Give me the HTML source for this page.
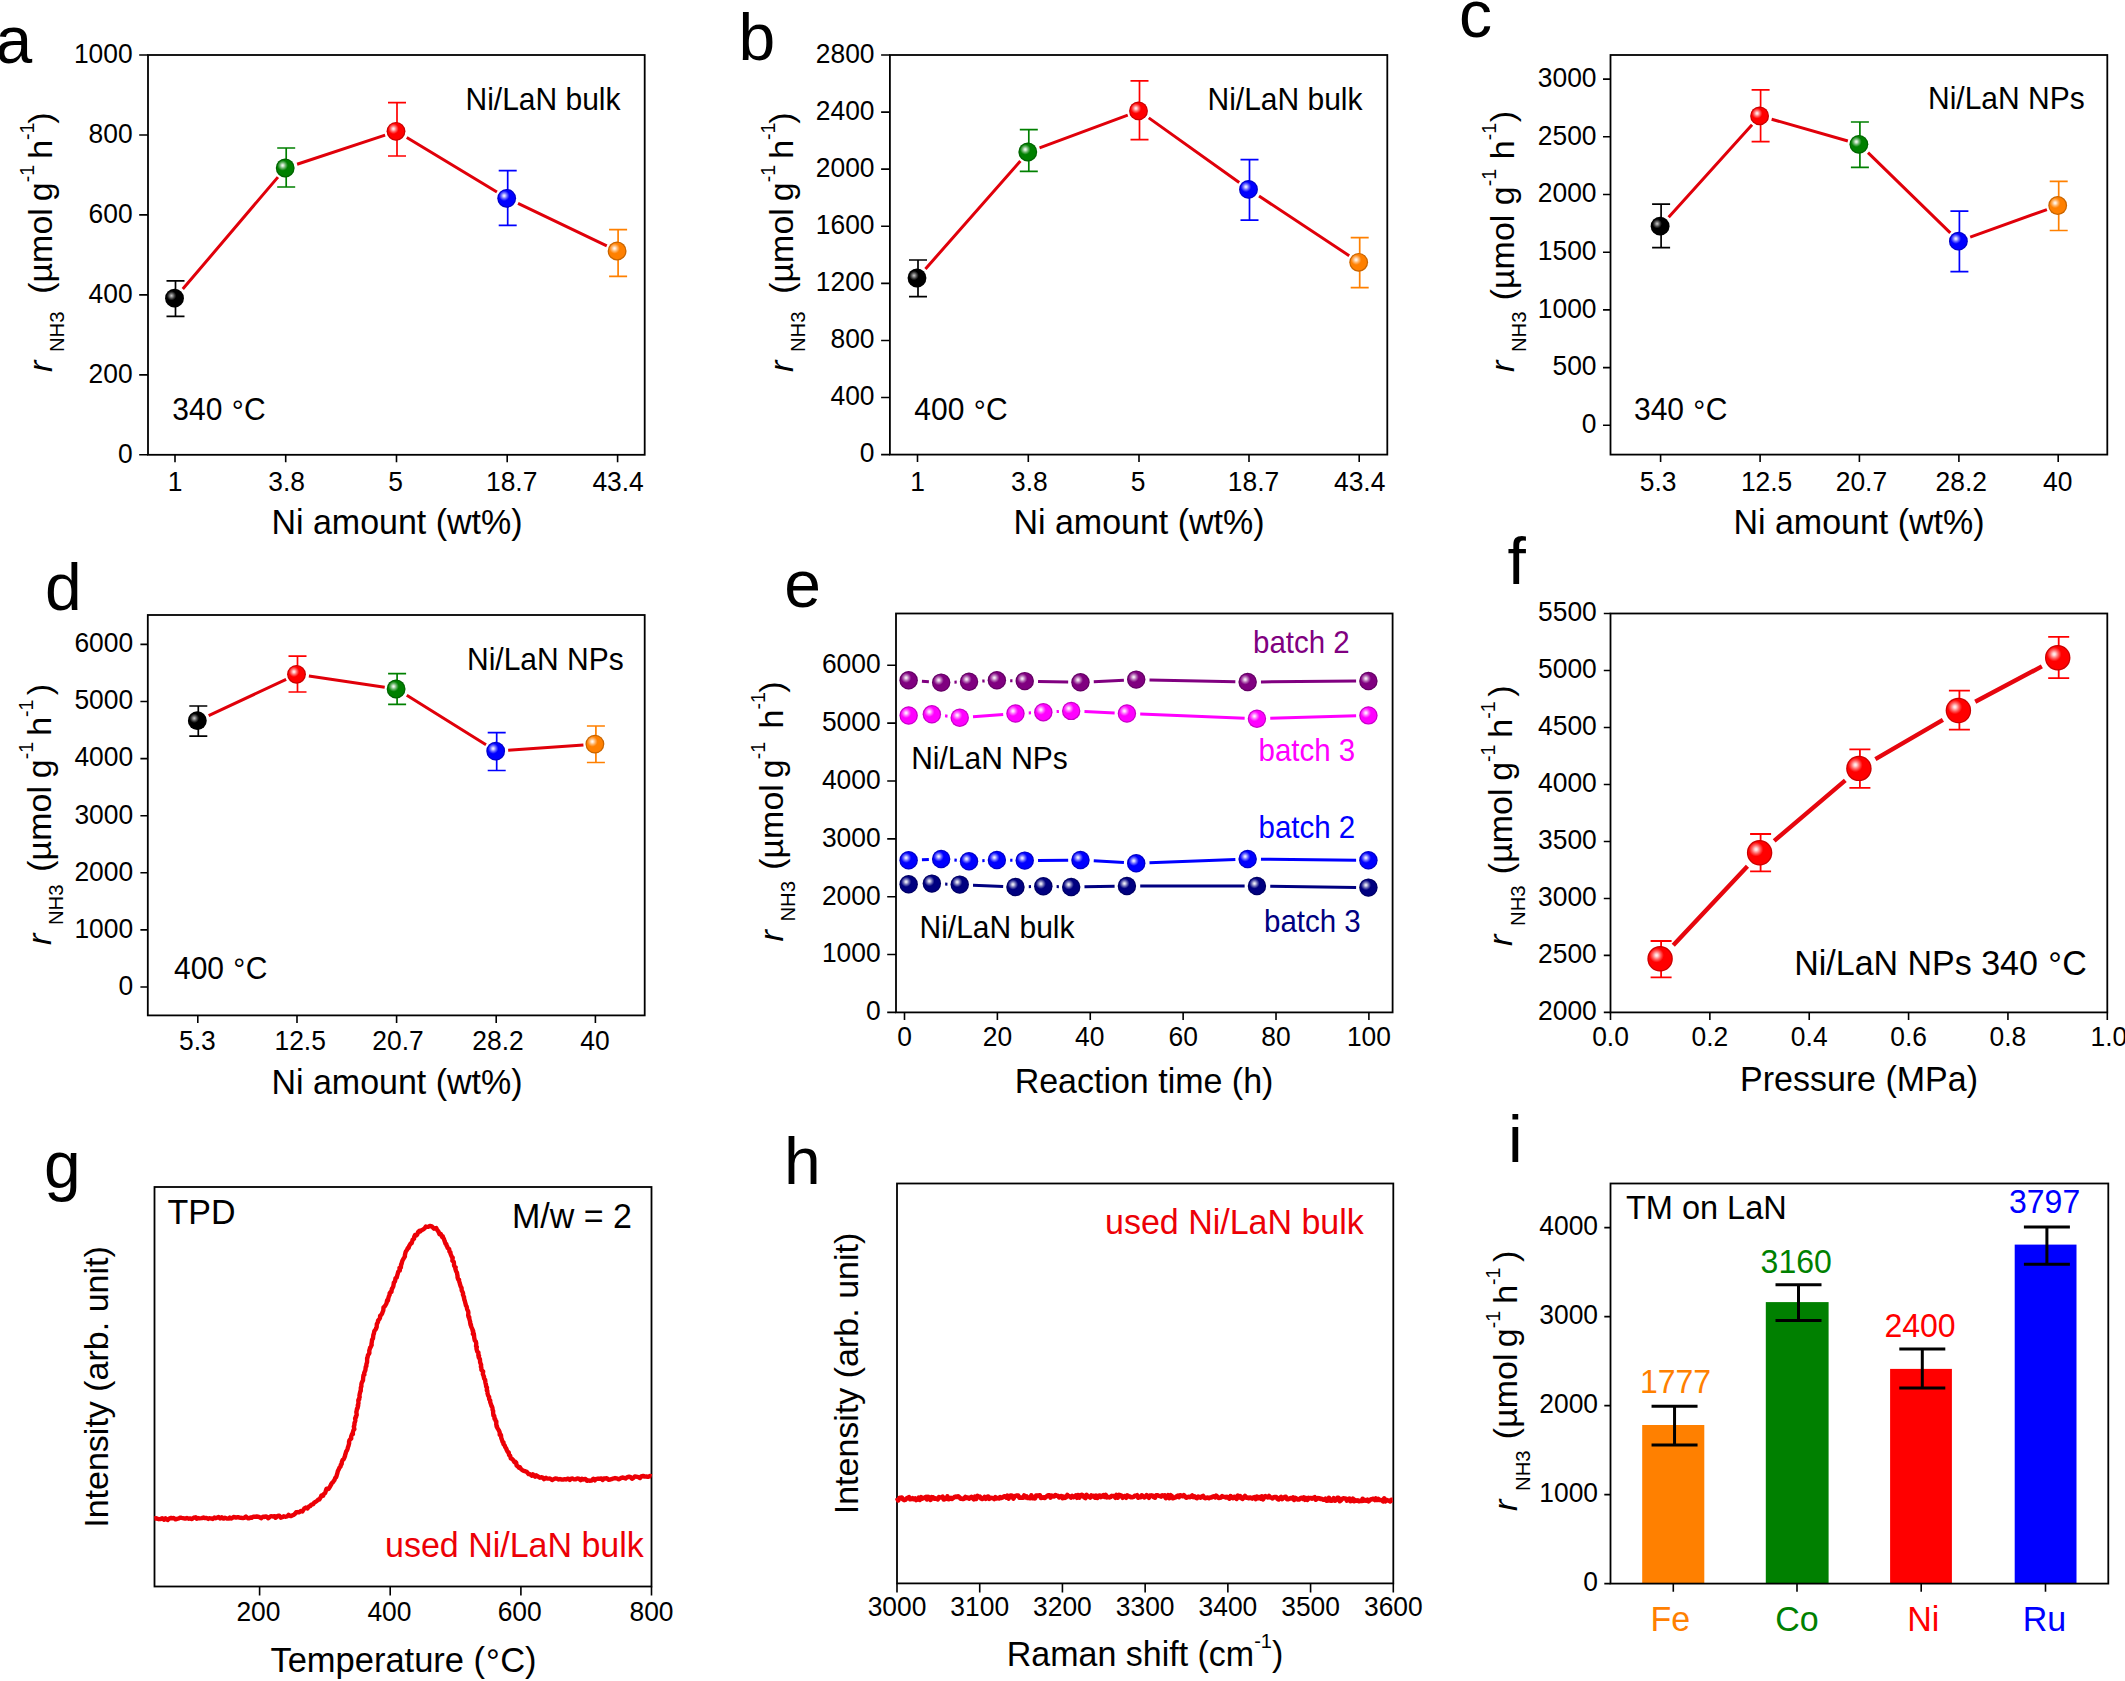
<!DOCTYPE html>
<html lang="en"><head><meta charset="utf-8"><title>Ammonia synthesis rate figure</title>
<style>html,body{margin:0;padding:0;background:#fff}body{width:2125px;height:1681px;overflow:hidden}svg{display:block}text{font-family:'Liberation Sans', Arial, sans-serif}</style></head><body>
<svg width="2125" height="1681" viewBox="0 0 2125 1681" role="img" aria-label="Nine panel figure of ammonia synthesis rates">
<defs>
<radialGradient id="hl" cx="0.355" cy="0.355" r="0.30" fx="0.355" fy="0.355"><stop offset="0" stop-color="#fff" stop-opacity="0.95"/><stop offset="0.18" stop-color="#fff" stop-opacity="0.85"/><stop offset="0.55" stop-color="#fff" stop-opacity="0.42"/><stop offset="0.85" stop-color="#fff" stop-opacity="0.12"/><stop offset="1" stop-color="#fff" stop-opacity="0"/></radialGradient>
<radialGradient id="hlk" cx="0.33" cy="0.36" r="0.27" fx="0.33" fy="0.36"><stop offset="0" stop-color="#fff" stop-opacity="0.8"/><stop offset="0.3" stop-color="#fff" stop-opacity="0.55"/><stop offset="0.7" stop-color="#fff" stop-opacity="0.2"/><stop offset="1" stop-color="#fff" stop-opacity="0"/></radialGradient>
</defs>
<rect width="2125" height="1681" fill="#fff"/>
<rect x="148" y="55" width="496.7" height="399.8" fill="none" stroke="#000" stroke-width="1.8"/>
<path d="M139.2 454.8H148M139.2 374.84H148M139.2 294.88H148M139.2 214.92H148M139.2 134.96H148M139.2 55H148" stroke="#000" stroke-width="1.6" fill="none"/>
<text transform="translate(132.6 462.6) scale(1 1.08)" font-size="26.4" fill="#000" text-anchor="end">0</text>
<text transform="translate(132.6 382.64) scale(1 1.08)" font-size="26.4" fill="#000" text-anchor="end">200</text>
<text transform="translate(132.6 302.68) scale(1 1.08)" font-size="26.4" fill="#000" text-anchor="end">400</text>
<text transform="translate(132.6 222.72) scale(1 1.08)" font-size="26.4" fill="#000" text-anchor="end">600</text>
<text transform="translate(132.6 142.76) scale(1 1.08)" font-size="26.4" fill="#000" text-anchor="end">800</text>
<text transform="translate(132.6 62.8) scale(1 1.08)" font-size="26.4" fill="#000" text-anchor="end">1000</text>
<path d="M175 454.8V462.3M285.7 454.8V462.3M396.5 454.8V462.3M507.2 454.8V462.3M617.6 454.8V462.3" stroke="#000" stroke-width="1.6" fill="none"/>
<text transform="translate(175 490.7) scale(1 1.08)" font-size="26.4" fill="#000" text-anchor="middle">1</text>
<text transform="translate(286.7 490.7) scale(1 1.08)" font-size="26.4" fill="#000" text-anchor="middle">3.8</text>
<text transform="translate(395.7 490.7) scale(1 1.08)" font-size="26.4" fill="#000" text-anchor="middle">5</text>
<text transform="translate(511.7 490.7) scale(1 1.08)" font-size="26.4" fill="#000" text-anchor="middle">18.7</text>
<text transform="translate(618.1 490.7) scale(1 1.08)" font-size="26.4" fill="#000" text-anchor="middle">43.4</text>
<path d="M182.77 289.06L277.93 177.14M297.09 164.23L385.11 135.07M406.77 137.51L496.93 192.09M518.03 203.47L606.77 245.83" stroke="#e0000a" stroke-width="3" fill="none"/>
<path d="M166.5 280.9H184.5M166.5 316.3H184.5M175.5 280.9V316.3" stroke="#000000" stroke-width="1.7" fill="none"/>
<path d="M277.2 148H295.2M277.2 187H295.2M286.2 148V187" stroke="#008000" stroke-width="1.7" fill="none"/>
<path d="M388 102.6H406M388 156H406M397 102.6V156" stroke="#ff0000" stroke-width="1.7" fill="none"/>
<path d="M498.7 170.7H516.7M498.7 225.3H516.7M507.7 170.7V225.3" stroke="#0000ff" stroke-width="1.7" fill="none"/>
<path d="M609.1 229.6H627.1M609.1 276.4H627.1M618.1 229.6V276.4" stroke="#ff8000" stroke-width="1.7" fill="none"/>
<circle cx="174.5" cy="298.2" r="9.4" fill="#000000"/><circle cx="174.5" cy="298.2" r="8.8" fill="url(#hlk)" stroke="#000" stroke-opacity="0.22" stroke-width="1.2"/>
<circle cx="285.2" cy="168" r="9.4" fill="#008000"/><circle cx="285.2" cy="168" r="8.8" fill="url(#hl)" stroke="#000" stroke-opacity="0.22" stroke-width="1.2"/>
<circle cx="396" cy="131.3" r="9.4" fill="#ff0000"/><circle cx="396" cy="131.3" r="8.8" fill="url(#hl)" stroke="#000" stroke-opacity="0.22" stroke-width="1.2"/>
<circle cx="506.7" cy="198.3" r="9.4" fill="#0000ff"/><circle cx="506.7" cy="198.3" r="8.8" fill="url(#hl)" stroke="#000" stroke-opacity="0.22" stroke-width="1.2"/>
<circle cx="617.1" cy="251" r="9.4" fill="#ff8000"/><circle cx="617.1" cy="251" r="8.8" fill="url(#hl)" stroke="#000" stroke-opacity="0.22" stroke-width="1.2"/>
<text transform="translate(465.5 109.5) scale(1 1.04)" font-size="30" fill="#000" text-anchor="start">Ni/LaN bulk</text>
<text transform="translate(172.3 420) scale(1 1.04)" font-size="30" fill="#000" text-anchor="start">340 <tspan dy="1.5" dx="1">°</tspan><tspan dy="-1.5" dx="0.3">C</tspan></text>
<text transform="translate(397 534) scale(1 1.04)" font-size="34" fill="#000" text-anchor="middle">Ni amount (wt%)</text>
<text transform="translate(51.8 372) rotate(-90)" font-size="34" text-anchor="start" fill="#000"><tspan font-style="italic">r</tspan><tspan font-size="20.3" dy="12.4" dx="8.6">NH3</tspan><tspan dy="-12.4" dx="17.7">(µmol</tspan><tspan dx="6.95">g</tspan><tspan font-size="19.5" dy="-17.5">-1</tspan><tspan dy="17.5" dx="6.05">h</tspan><tspan font-size="19.5" dy="-17.5">-1</tspan><tspan dy="17.5" dx="-1.2">)</tspan></text>
<text x="-4.5" y="62.5" font-size="66" fill="#000" text-anchor="start">a</text>
<rect x="889.9" y="55" width="497.4" height="399.6" fill="none" stroke="#000" stroke-width="1.8"/>
<path d="M881.1 454.6H889.9M881.1 397.51H889.9M881.1 340.43H889.9M881.1 283.34H889.9M881.1 226.26H889.9M881.1 169.17H889.9M881.1 112.09H889.9M881.1 55H889.9" stroke="#000" stroke-width="1.6" fill="none"/>
<text transform="translate(874.5 462.4) scale(1 1.08)" font-size="26.4" fill="#000" text-anchor="end">0</text>
<text transform="translate(874.5 405.31) scale(1 1.08)" font-size="26.4" fill="#000" text-anchor="end">400</text>
<text transform="translate(874.5 348.23) scale(1 1.08)" font-size="26.4" fill="#000" text-anchor="end">800</text>
<text transform="translate(874.5 291.14) scale(1 1.08)" font-size="26.4" fill="#000" text-anchor="end">1200</text>
<text transform="translate(874.5 234.06) scale(1 1.08)" font-size="26.4" fill="#000" text-anchor="end">1600</text>
<text transform="translate(874.5 176.97) scale(1 1.08)" font-size="26.4" fill="#000" text-anchor="end">2000</text>
<text transform="translate(874.5 119.89) scale(1 1.08)" font-size="26.4" fill="#000" text-anchor="end">2400</text>
<text transform="translate(874.5 62.8) scale(1 1.08)" font-size="26.4" fill="#000" text-anchor="end">2800</text>
<path d="M917.5 454.6V462.1M1028.3 454.6V462.1M1139 454.6V462.1M1249 454.6V462.1M1359.2 454.6V462.1" stroke="#000" stroke-width="1.6" fill="none"/>
<text transform="translate(917.5 490.7) scale(1 1.08)" font-size="26.4" fill="#000" text-anchor="middle">1</text>
<text transform="translate(1029.3 490.7) scale(1 1.08)" font-size="26.4" fill="#000" text-anchor="middle">3.8</text>
<text transform="translate(1138.2 490.7) scale(1 1.08)" font-size="26.4" fill="#000" text-anchor="middle">5</text>
<text transform="translate(1253.5 490.7) scale(1 1.08)" font-size="26.4" fill="#000" text-anchor="middle">18.7</text>
<text transform="translate(1359.7 490.7) scale(1 1.08)" font-size="26.4" fill="#000" text-anchor="middle">43.4</text>
<path d="M925.42 268.99L1020.38 161.01M1039.55 147.82L1127.75 115.08M1148.77 117.87L1239.23 182.43M1259.01 196.02L1349.19 255.68" stroke="#e0000a" stroke-width="3" fill="none"/>
<path d="M909 260H927M909 296.7H927M918 260V296.7" stroke="#000000" stroke-width="1.7" fill="none"/>
<path d="M1019.8 129.6H1037.8M1019.8 171.4H1037.8M1028.8 129.6V171.4" stroke="#008000" stroke-width="1.7" fill="none"/>
<path d="M1130.5 80.9H1148.5M1130.5 139.7H1148.5M1139.5 80.9V139.7" stroke="#ff0000" stroke-width="1.7" fill="none"/>
<path d="M1240.5 159.7H1258.5M1240.5 220.2H1258.5M1249.5 159.7V220.2" stroke="#0000ff" stroke-width="1.7" fill="none"/>
<path d="M1350.7 237.6H1368.7M1350.7 287.7H1368.7M1359.7 237.6V287.7" stroke="#ff8000" stroke-width="1.7" fill="none"/>
<circle cx="917" cy="278" r="9.4" fill="#000000"/><circle cx="917" cy="278" r="8.8" fill="url(#hlk)" stroke="#000" stroke-opacity="0.22" stroke-width="1.2"/>
<circle cx="1027.8" cy="152" r="9.4" fill="#008000"/><circle cx="1027.8" cy="152" r="8.8" fill="url(#hl)" stroke="#000" stroke-opacity="0.22" stroke-width="1.2"/>
<circle cx="1138.5" cy="110.9" r="9.4" fill="#ff0000"/><circle cx="1138.5" cy="110.9" r="8.8" fill="url(#hl)" stroke="#000" stroke-opacity="0.22" stroke-width="1.2"/>
<circle cx="1248.5" cy="189.4" r="9.4" fill="#0000ff"/><circle cx="1248.5" cy="189.4" r="8.8" fill="url(#hl)" stroke="#000" stroke-opacity="0.22" stroke-width="1.2"/>
<circle cx="1358.7" cy="262.3" r="9.4" fill="#ff8000"/><circle cx="1358.7" cy="262.3" r="8.8" fill="url(#hl)" stroke="#000" stroke-opacity="0.22" stroke-width="1.2"/>
<text transform="translate(1207.5 109.5) scale(1 1.04)" font-size="30" fill="#000" text-anchor="start">Ni/LaN bulk</text>
<text transform="translate(914.3 420) scale(1 1.04)" font-size="30" fill="#000" text-anchor="start">400 <tspan dy="1.5" dx="1">°</tspan><tspan dy="-1.5" dx="0.3">C</tspan></text>
<text transform="translate(1139 534) scale(1 1.04)" font-size="34" fill="#000" text-anchor="middle">Ni amount (wt%)</text>
<text transform="translate(792.5 372) rotate(-90)" font-size="34" text-anchor="start" fill="#000"><tspan font-style="italic">r</tspan><tspan font-size="20.3" dy="12.4" dx="8.6">NH3</tspan><tspan dy="-12.4" dx="17.7">(µmol</tspan><tspan dx="6.95">g</tspan><tspan font-size="19.5" dy="-17.5">-1</tspan><tspan dy="17.5" dx="6.05">h</tspan><tspan font-size="19.5" dy="-17.5">-1</tspan><tspan dy="17.5" dx="-1.2">)</tspan></text>
<text x="738.4" y="59.5" font-size="66" fill="#000" text-anchor="start">b</text>
<rect x="1610.5" y="55" width="496.8" height="399.6" fill="none" stroke="#000" stroke-width="1.8"/>
<path d="M1603 425.3H1610.5M1603 367.6H1610.5M1603 309.9H1610.5M1603 252.2H1610.5M1603 194.5H1610.5M1603 136.8H1610.5M1603 79.1H1610.5" stroke="#000" stroke-width="1.6" fill="none"/>
<text transform="translate(1596.5 433.1) scale(1 1.08)" font-size="26.4" fill="#000" text-anchor="end">0</text>
<text transform="translate(1596.5 375.4) scale(1 1.08)" font-size="26.4" fill="#000" text-anchor="end">500</text>
<text transform="translate(1596.5 317.7) scale(1 1.08)" font-size="26.4" fill="#000" text-anchor="end">1000</text>
<text transform="translate(1596.5 260) scale(1 1.08)" font-size="26.4" fill="#000" text-anchor="end">1500</text>
<text transform="translate(1596.5 202.3) scale(1 1.08)" font-size="26.4" fill="#000" text-anchor="end">2000</text>
<text transform="translate(1596.5 144.6) scale(1 1.08)" font-size="26.4" fill="#000" text-anchor="end">2500</text>
<text transform="translate(1596.5 86.9) scale(1 1.08)" font-size="26.4" fill="#000" text-anchor="end">3000</text>
<path d="M1660.6 454.6V462.1M1760.1 454.6V462.1M1859.4 454.6V462.1M1958.9 454.6V462.1M2058.2 454.6V462.1" stroke="#000" stroke-width="1.6" fill="none"/>
<text transform="translate(1658.2 490.7) scale(1 1.08)" font-size="26.4" fill="#000" text-anchor="middle">5.3</text>
<text transform="translate(1766.6 490.7) scale(1 1.08)" font-size="26.4" fill="#000" text-anchor="middle">12.5</text>
<text transform="translate(1861.4 490.7) scale(1 1.08)" font-size="26.4" fill="#000" text-anchor="middle">20.7</text>
<text transform="translate(1961.3 490.7) scale(1 1.08)" font-size="26.4" fill="#000" text-anchor="middle">28.2</text>
<text transform="translate(2057.7 490.7) scale(1 1.08)" font-size="26.4" fill="#000" text-anchor="middle">40</text>
<path d="M1668.64 217.29L1752.06 124.81M1771.64 119.2L1847.86 141M1868 152.67L1950.3 232.83M1970.19 237.14L2046.91 209.56" stroke="#e0000a" stroke-width="3" fill="none"/>
<path d="M1652.1 204.1H1670.1M1652.1 247.6H1670.1M1661.1 204.1V247.6" stroke="#000000" stroke-width="1.7" fill="none"/>
<path d="M1751.6 89.9H1769.6M1751.6 141.7H1769.6M1760.6 89.9V141.7" stroke="#ff0000" stroke-width="1.7" fill="none"/>
<path d="M1850.9 122H1868.9M1850.9 167.4H1868.9M1859.9 122V167.4" stroke="#008000" stroke-width="1.7" fill="none"/>
<path d="M1950.4 211.2H1968.4M1950.4 271.6H1968.4M1959.4 211.2V271.6" stroke="#0000ff" stroke-width="1.7" fill="none"/>
<path d="M2049.7 181.4H2067.7M2049.7 230.5H2067.7M2058.7 181.4V230.5" stroke="#ff8000" stroke-width="1.7" fill="none"/>
<circle cx="1660.1" cy="226.2" r="9.4" fill="#000000"/><circle cx="1660.1" cy="226.2" r="8.8" fill="url(#hlk)" stroke="#000" stroke-opacity="0.22" stroke-width="1.2"/>
<circle cx="1759.6" cy="115.9" r="9.4" fill="#ff0000"/><circle cx="1759.6" cy="115.9" r="8.8" fill="url(#hl)" stroke="#000" stroke-opacity="0.22" stroke-width="1.2"/>
<circle cx="1858.9" cy="144.3" r="9.4" fill="#008000"/><circle cx="1858.9" cy="144.3" r="8.8" fill="url(#hl)" stroke="#000" stroke-opacity="0.22" stroke-width="1.2"/>
<circle cx="1958.4" cy="241.2" r="9.4" fill="#0000ff"/><circle cx="1958.4" cy="241.2" r="8.8" fill="url(#hl)" stroke="#000" stroke-opacity="0.22" stroke-width="1.2"/>
<circle cx="2057.7" cy="205.5" r="9.4" fill="#ff8000"/><circle cx="2057.7" cy="205.5" r="8.8" fill="url(#hl)" stroke="#000" stroke-opacity="0.22" stroke-width="1.2"/>
<text transform="translate(1928 109.2) scale(1 1.04)" font-size="30" fill="#000" text-anchor="start">Ni/LaN NPs</text>
<text transform="translate(1634 420) scale(1 1.04)" font-size="30" fill="#000" text-anchor="start">340 <tspan dy="1.5" dx="1">°</tspan><tspan dy="-1.5" dx="0.3">C</tspan></text>
<text transform="translate(1859 534) scale(1 1.04)" font-size="34" fill="#000" text-anchor="middle">Ni amount (wt%)</text>
<text transform="translate(1513.8 372) rotate(-90)" font-size="34" text-anchor="start" fill="#000"><tspan font-style="italic">r</tspan><tspan font-size="20.3" dy="12.4" dx="8.6">NH3</tspan><tspan dy="-12.4" dx="11.2">(µmol</tspan><tspan dx="9.45">g</tspan><tspan font-size="19.5" dy="-17.5">-1</tspan><tspan dy="17.5" dx="9.65">h</tspan><tspan font-size="19.5" dy="-17.5">-1</tspan><tspan dy="17.5" dx="0.6">)</tspan></text>
<text x="1459" y="36.5" font-size="66" fill="#000" text-anchor="start">c</text>
<rect x="147.8" y="615" width="496.9" height="400.4" fill="none" stroke="#000" stroke-width="1.8"/>
<path d="M140.4 987H147.8M140.4 929.9H147.8M140.4 872.8H147.8M140.4 815.7H147.8M140.4 758.6H147.8M140.4 701.5H147.8M140.4 644.4H147.8" stroke="#000" stroke-width="1.6" fill="none"/>
<text transform="translate(133.1 994.8) scale(1 1.08)" font-size="26.4" fill="#000" text-anchor="end">0</text>
<text transform="translate(133.1 937.7) scale(1 1.08)" font-size="26.4" fill="#000" text-anchor="end">1000</text>
<text transform="translate(133.1 880.6) scale(1 1.08)" font-size="26.4" fill="#000" text-anchor="end">2000</text>
<text transform="translate(133.1 823.5) scale(1 1.08)" font-size="26.4" fill="#000" text-anchor="end">3000</text>
<text transform="translate(133.1 766.4) scale(1 1.08)" font-size="26.4" fill="#000" text-anchor="end">4000</text>
<text transform="translate(133.1 709.3) scale(1 1.08)" font-size="26.4" fill="#000" text-anchor="end">5000</text>
<text transform="translate(133.1 652.2) scale(1 1.08)" font-size="26.4" fill="#000" text-anchor="end">6000</text>
<path d="M197.8 1015.4V1022.9M297 1015.4V1022.9M396.6 1015.4V1022.9M496.2 1015.4V1022.9M595.4 1015.4V1022.9" stroke="#000" stroke-width="1.6" fill="none"/>
<text transform="translate(197.3 1050.3) scale(1 1.08)" font-size="26.4" fill="#000" text-anchor="middle">5.3</text>
<text transform="translate(300.2 1050.3) scale(1 1.08)" font-size="26.4" fill="#000" text-anchor="middle">12.5</text>
<text transform="translate(398 1050.3) scale(1 1.08)" font-size="26.4" fill="#000" text-anchor="middle">20.7</text>
<text transform="translate(498 1050.3) scale(1 1.08)" font-size="26.4" fill="#000" text-anchor="middle">28.2</text>
<text transform="translate(594.9 1050.3) scale(1 1.08)" font-size="26.4" fill="#000" text-anchor="middle">40</text>
<path d="M208.67 715.62L286.13 679.38M308.87 676.05L384.73 687.25M406.78 695.35L486.02 744.75M508.17 750.26L583.43 744.94" stroke="#e0000a" stroke-width="3" fill="none"/>
<path d="M189.3 706H207.3M189.3 736.1H207.3M198.3 706V736.1" stroke="#000000" stroke-width="1.7" fill="none"/>
<path d="M288.5 656.2H306.5M288.5 692H306.5M297.5 656.2V692" stroke="#ff0000" stroke-width="1.7" fill="none"/>
<path d="M388.1 673.6H406.1M388.1 704.3H406.1M397.1 673.6V704.3" stroke="#008000" stroke-width="1.7" fill="none"/>
<path d="M487.7 732.7H505.7M487.7 770.5H505.7M496.7 732.7V770.5" stroke="#0000ff" stroke-width="1.7" fill="none"/>
<path d="M586.9 726H604.9M586.9 762.5H604.9M595.9 726V762.5" stroke="#ff8000" stroke-width="1.7" fill="none"/>
<circle cx="197.3" cy="720.7" r="9.4" fill="#000000"/><circle cx="197.3" cy="720.7" r="8.8" fill="url(#hlk)" stroke="#000" stroke-opacity="0.22" stroke-width="1.2"/>
<circle cx="296.5" cy="674.3" r="9.4" fill="#ff0000"/><circle cx="296.5" cy="674.3" r="8.8" fill="url(#hl)" stroke="#000" stroke-opacity="0.22" stroke-width="1.2"/>
<circle cx="396.1" cy="689" r="9.4" fill="#008000"/><circle cx="396.1" cy="689" r="8.8" fill="url(#hl)" stroke="#000" stroke-opacity="0.22" stroke-width="1.2"/>
<circle cx="495.7" cy="751.1" r="9.4" fill="#0000ff"/><circle cx="495.7" cy="751.1" r="8.8" fill="url(#hl)" stroke="#000" stroke-opacity="0.22" stroke-width="1.2"/>
<circle cx="594.9" cy="744.1" r="9.4" fill="#ff8000"/><circle cx="594.9" cy="744.1" r="8.8" fill="url(#hl)" stroke="#000" stroke-opacity="0.22" stroke-width="1.2"/>
<text transform="translate(467 669.5) scale(1 1.04)" font-size="30" fill="#000" text-anchor="start">Ni/LaN NPs</text>
<text transform="translate(174 978.5) scale(1 1.04)" font-size="30" fill="#000" text-anchor="start">400 <tspan dy="1.5" dx="1">°</tspan><tspan dy="-1.5" dx="0.3">C</tspan></text>
<text transform="translate(397 1094.3) scale(1 1.04)" font-size="34" fill="#000" text-anchor="middle">Ni amount (wt%)</text>
<text transform="translate(50.6 945) rotate(-90)" font-size="34" text-anchor="start" fill="#000"><tspan font-style="italic">r</tspan><tspan font-size="20.3" dy="12.4" dx="8.6">NH3</tspan><tspan dy="-12.4" dx="12.8">(µmol</tspan><tspan dx="7.85">g</tspan><tspan font-size="19.5" dy="-17.5">-1</tspan><tspan dy="17.5" dx="6.05">h</tspan><tspan font-size="19.5" dy="-17.5">-1</tspan><tspan dy="17.5" dx="4.2">)</tspan></text>
<text x="45" y="609.5" font-size="66" fill="#000" text-anchor="start">d</text>
<rect x="896" y="613.5" width="496.6" height="398.9" fill="none" stroke="#000" stroke-width="1.8"/>
<path d="M887.2 1012.4H896M887.2 954.55H896M887.2 896.7H896M887.2 838.85H896M887.2 781H896M887.2 723.15H896M887.2 665.3H896" stroke="#000" stroke-width="1.6" fill="none"/>
<text transform="translate(880.6 1020.2) scale(1 1.08)" font-size="26.4" fill="#000" text-anchor="end">0</text>
<text transform="translate(880.6 962.35) scale(1 1.08)" font-size="26.4" fill="#000" text-anchor="end">1000</text>
<text transform="translate(880.6 904.5) scale(1 1.08)" font-size="26.4" fill="#000" text-anchor="end">2000</text>
<text transform="translate(880.6 846.65) scale(1 1.08)" font-size="26.4" fill="#000" text-anchor="end">3000</text>
<text transform="translate(880.6 788.8) scale(1 1.08)" font-size="26.4" fill="#000" text-anchor="end">4000</text>
<text transform="translate(880.6 730.95) scale(1 1.08)" font-size="26.4" fill="#000" text-anchor="end">5000</text>
<text transform="translate(880.6 673.1) scale(1 1.08)" font-size="26.4" fill="#000" text-anchor="end">6000</text>
<path d="M904.5 1012.4V1019.9M997.38 1012.4V1019.9M1090.26 1012.4V1019.9M1183.14 1012.4V1019.9M1276.02 1012.4V1019.9M1368.9 1012.4V1019.9" stroke="#000" stroke-width="1.6" fill="none"/>
<text transform="translate(904.5 1045.8) scale(1 1.08)" font-size="26.4" fill="#000" text-anchor="middle">0</text>
<text transform="translate(997.38 1045.8) scale(1 1.08)" font-size="26.4" fill="#000" text-anchor="middle">20</text>
<text transform="translate(1089.76 1045.8) scale(1 1.08)" font-size="26.4" fill="#000" text-anchor="middle">40</text>
<text transform="translate(1183.14 1045.8) scale(1 1.08)" font-size="26.4" fill="#000" text-anchor="middle">60</text>
<text transform="translate(1276.02 1045.8) scale(1 1.08)" font-size="26.4" fill="#000" text-anchor="middle">80</text>
<text transform="translate(1368.9 1045.8) scale(1 1.08)" font-size="26.4" fill="#000" text-anchor="middle">100</text>
<path d="M921.91 681.2L928.88 681.7M954.45 682.19L956.72 682.11M982.3 681.06L984.6 680.94M1010.17 680.67L1012.45 680.73M1038.04 681.38L1068.17 682.02M1093.76 681.68L1123.91 680.22M1149.5 679.88L1235.36 681.72M1260.96 681.89L1356.1 681.11" stroke="#800080" stroke-width="3.0" fill="none"/>
<circle cx="908.64" cy="680.3" r="9.2" fill="#800080"/><circle cx="908.64" cy="680.3" r="8.6" fill="url(#hl)" stroke="#000" stroke-opacity="0.22" stroke-width="1.2"/>
<circle cx="941.15" cy="682.6" r="9.2" fill="#800080"/><circle cx="941.15" cy="682.6" r="8.6" fill="url(#hl)" stroke="#000" stroke-opacity="0.22" stroke-width="1.2"/>
<circle cx="969.02" cy="681.7" r="9.2" fill="#800080"/><circle cx="969.02" cy="681.7" r="8.6" fill="url(#hl)" stroke="#000" stroke-opacity="0.22" stroke-width="1.2"/>
<circle cx="996.88" cy="680.3" r="9.2" fill="#800080"/><circle cx="996.88" cy="680.3" r="8.6" fill="url(#hl)" stroke="#000" stroke-opacity="0.22" stroke-width="1.2"/>
<circle cx="1024.74" cy="681.1" r="9.2" fill="#800080"/><circle cx="1024.74" cy="681.1" r="8.6" fill="url(#hl)" stroke="#000" stroke-opacity="0.22" stroke-width="1.2"/>
<circle cx="1080.47" cy="682.3" r="9.2" fill="#800080"/><circle cx="1080.47" cy="682.3" r="8.6" fill="url(#hl)" stroke="#000" stroke-opacity="0.22" stroke-width="1.2"/>
<circle cx="1136.2" cy="679.6" r="9.2" fill="#800080"/><circle cx="1136.2" cy="679.6" r="8.6" fill="url(#hl)" stroke="#000" stroke-opacity="0.22" stroke-width="1.2"/>
<circle cx="1247.66" cy="682" r="9.2" fill="#800080"/><circle cx="1247.66" cy="682" r="8.6" fill="url(#hl)" stroke="#000" stroke-opacity="0.22" stroke-width="1.2"/>
<circle cx="1368.4" cy="681" r="9.2" fill="#800080"/><circle cx="1368.4" cy="681" r="8.6" fill="url(#hl)" stroke="#000" stroke-opacity="0.22" stroke-width="1.2"/>
<path d="M945.07 715.85L947.52 716.15M972.99 716.74L1003.19 714.46M1028.74 712.9L1031.03 712.8M1056.61 711.6L1058.9 711.5M1084.47 711.5L1114.63 712.9M1140.2 714.01L1244.65 718.19M1270.24 718.32L1356.11 715.78" stroke="#ff00ff" stroke-width="3.0" fill="none"/>
<circle cx="908.64" cy="715.5" r="9.2" fill="#ff00ff"/><circle cx="908.64" cy="715.5" r="8.6" fill="url(#hl)" stroke="#000" stroke-opacity="0.22" stroke-width="1.2"/>
<circle cx="931.86" cy="714.3" r="9.2" fill="#ff00ff"/><circle cx="931.86" cy="714.3" r="8.6" fill="url(#hl)" stroke="#000" stroke-opacity="0.22" stroke-width="1.2"/>
<circle cx="959.73" cy="717.7" r="9.2" fill="#ff00ff"/><circle cx="959.73" cy="717.7" r="8.6" fill="url(#hl)" stroke="#000" stroke-opacity="0.22" stroke-width="1.2"/>
<circle cx="1015.46" cy="713.5" r="9.2" fill="#ff00ff"/><circle cx="1015.46" cy="713.5" r="8.6" fill="url(#hl)" stroke="#000" stroke-opacity="0.22" stroke-width="1.2"/>
<circle cx="1043.32" cy="712.2" r="9.2" fill="#ff00ff"/><circle cx="1043.32" cy="712.2" r="8.6" fill="url(#hl)" stroke="#000" stroke-opacity="0.22" stroke-width="1.2"/>
<circle cx="1071.18" cy="710.9" r="9.2" fill="#ff00ff"/><circle cx="1071.18" cy="710.9" r="8.6" fill="url(#hl)" stroke="#000" stroke-opacity="0.22" stroke-width="1.2"/>
<circle cx="1126.91" cy="713.5" r="9.2" fill="#ff00ff"/><circle cx="1126.91" cy="713.5" r="8.6" fill="url(#hl)" stroke="#000" stroke-opacity="0.22" stroke-width="1.2"/>
<circle cx="1256.94" cy="718.7" r="9.2" fill="#ff00ff"/><circle cx="1256.94" cy="718.7" r="8.6" fill="url(#hl)" stroke="#000" stroke-opacity="0.22" stroke-width="1.2"/>
<circle cx="1368.4" cy="715.4" r="9.2" fill="#ff00ff"/><circle cx="1368.4" cy="715.4" r="8.6" fill="url(#hl)" stroke="#000" stroke-opacity="0.22" stroke-width="1.2"/>
<path d="M921.93 859.79L928.86 859.51M954.41 860.05L956.76 860.25M982.3 860.7L984.59 860.6M1010.18 860.28L1012.45 860.32M1038.04 860.46L1068.17 860.14M1093.75 860.76L1123.92 862.54M1149.49 862.81L1235.37 859.49M1260.96 859.14L1356.1 860.16" stroke="#0000ff" stroke-width="3.0" fill="none"/>
<circle cx="908.64" cy="860.3" r="9.2" fill="#0000ff"/><circle cx="908.64" cy="860.3" r="8.6" fill="url(#hl)" stroke="#000" stroke-opacity="0.22" stroke-width="1.2"/>
<circle cx="941.15" cy="859" r="9.2" fill="#0000ff"/><circle cx="941.15" cy="859" r="8.6" fill="url(#hl)" stroke="#000" stroke-opacity="0.22" stroke-width="1.2"/>
<circle cx="969.02" cy="861.3" r="9.2" fill="#0000ff"/><circle cx="969.02" cy="861.3" r="8.6" fill="url(#hl)" stroke="#000" stroke-opacity="0.22" stroke-width="1.2"/>
<circle cx="996.88" cy="860" r="9.2" fill="#0000ff"/><circle cx="996.88" cy="860" r="8.6" fill="url(#hl)" stroke="#000" stroke-opacity="0.22" stroke-width="1.2"/>
<circle cx="1024.74" cy="860.6" r="9.2" fill="#0000ff"/><circle cx="1024.74" cy="860.6" r="8.6" fill="url(#hl)" stroke="#000" stroke-opacity="0.22" stroke-width="1.2"/>
<circle cx="1080.47" cy="860" r="9.2" fill="#0000ff"/><circle cx="1080.47" cy="860" r="8.6" fill="url(#hl)" stroke="#000" stroke-opacity="0.22" stroke-width="1.2"/>
<circle cx="1136.2" cy="863.3" r="9.2" fill="#0000ff"/><circle cx="1136.2" cy="863.3" r="8.6" fill="url(#hl)" stroke="#000" stroke-opacity="0.22" stroke-width="1.2"/>
<circle cx="1247.66" cy="859" r="9.2" fill="#0000ff"/><circle cx="1247.66" cy="859" r="8.6" fill="url(#hl)" stroke="#000" stroke-opacity="0.22" stroke-width="1.2"/>
<circle cx="1368.4" cy="860.3" r="9.2" fill="#0000ff"/><circle cx="1368.4" cy="860.3" r="8.6" fill="url(#hl)" stroke="#000" stroke-opacity="0.22" stroke-width="1.2"/>
<path d="M945.16 884.06L947.44 884.14M973.02 885.15L1003.17 886.45M1028.75 886.68L1031.02 886.62M1056.62 886.62L1058.89 886.68M1084.48 886.77L1114.61 886.23M1140.21 886L1244.64 886M1270.24 886.18L1356.1 887.42" stroke="#000080" stroke-width="3.0" fill="none"/>
<circle cx="908.64" cy="884.3" r="9.2" fill="#000080"/><circle cx="908.64" cy="884.3" r="8.6" fill="url(#hl)" stroke="#000" stroke-opacity="0.22" stroke-width="1.2"/>
<circle cx="931.86" cy="883.6" r="9.2" fill="#000080"/><circle cx="931.86" cy="883.6" r="8.6" fill="url(#hl)" stroke="#000" stroke-opacity="0.22" stroke-width="1.2"/>
<circle cx="959.73" cy="884.6" r="9.2" fill="#000080"/><circle cx="959.73" cy="884.6" r="8.6" fill="url(#hl)" stroke="#000" stroke-opacity="0.22" stroke-width="1.2"/>
<circle cx="1015.46" cy="887" r="9.2" fill="#000080"/><circle cx="1015.46" cy="887" r="8.6" fill="url(#hl)" stroke="#000" stroke-opacity="0.22" stroke-width="1.2"/>
<circle cx="1043.32" cy="886.3" r="9.2" fill="#000080"/><circle cx="1043.32" cy="886.3" r="8.6" fill="url(#hl)" stroke="#000" stroke-opacity="0.22" stroke-width="1.2"/>
<circle cx="1071.18" cy="887" r="9.2" fill="#000080"/><circle cx="1071.18" cy="887" r="8.6" fill="url(#hl)" stroke="#000" stroke-opacity="0.22" stroke-width="1.2"/>
<circle cx="1126.91" cy="886" r="9.2" fill="#000080"/><circle cx="1126.91" cy="886" r="8.6" fill="url(#hl)" stroke="#000" stroke-opacity="0.22" stroke-width="1.2"/>
<circle cx="1256.94" cy="886" r="9.2" fill="#000080"/><circle cx="1256.94" cy="886" r="8.6" fill="url(#hl)" stroke="#000" stroke-opacity="0.22" stroke-width="1.2"/>
<circle cx="1368.4" cy="887.6" r="9.2" fill="#000080"/><circle cx="1368.4" cy="887.6" r="8.6" fill="url(#hl)" stroke="#000" stroke-opacity="0.22" stroke-width="1.2"/>
<text transform="translate(1253 652.5) scale(1 1.04)" font-size="29.5" fill="#800080" text-anchor="start">batch 2</text>
<text transform="translate(1258.5 761) scale(1 1.04)" font-size="29.5" fill="#ff00ff" text-anchor="start">batch 3</text>
<text transform="translate(1258.5 838) scale(1 1.04)" font-size="29.5" fill="#0000ff" text-anchor="start">batch 2</text>
<text transform="translate(1264 932) scale(1 1.04)" font-size="29.5" fill="#000080" text-anchor="start">batch 3</text>
<text transform="translate(911.2 768.8) scale(1 1.04)" font-size="30" fill="#000" text-anchor="start">Ni/LaN NPs</text>
<text transform="translate(919.5 937.5) scale(1 1.04)" font-size="30" fill="#000" text-anchor="start">Ni/LaN bulk</text>
<text transform="translate(1144 1092.5) scale(1 1.04)" font-size="34" fill="#000" text-anchor="middle">Reaction time (h)</text>
<text transform="translate(782.6 941.5) rotate(-90)" font-size="34" text-anchor="start" fill="#000"><tspan font-style="italic">r</tspan><tspan font-size="20.3" dy="12.4" dx="8.6">NH3</tspan><tspan dy="-12.4" dx="11.2">(µmol</tspan><tspan dx="5.85">g</tspan><tspan font-size="19.5" dy="-17.5">-1</tspan><tspan dy="17.5" dx="13.45">h</tspan><tspan font-size="19.5" dy="-17.5">-1</tspan><tspan dy="17.5" dx="-0.4">)</tspan></text>
<text x="784.3" y="606.6" font-size="66" fill="#000" text-anchor="start">e</text>
<rect x="1610.5" y="613.5" width="496.8" height="398.9" fill="none" stroke="#000" stroke-width="1.8"/>
<path d="M1603.8 1012.4H1610.5M1603.8 955.41H1610.5M1603.8 898.43H1610.5M1603.8 841.44H1610.5M1603.8 784.46H1610.5M1603.8 727.47H1610.5M1603.8 670.49H1610.5M1603.8 613.5H1610.5" stroke="#000" stroke-width="1.6" fill="none"/>
<text transform="translate(1596.8 1020.2) scale(1 1.08)" font-size="26.4" fill="#000" text-anchor="end">2000</text>
<text transform="translate(1596.8 963.21) scale(1 1.08)" font-size="26.4" fill="#000" text-anchor="end">2500</text>
<text transform="translate(1596.8 906.23) scale(1 1.08)" font-size="26.4" fill="#000" text-anchor="end">3000</text>
<text transform="translate(1596.8 849.24) scale(1 1.08)" font-size="26.4" fill="#000" text-anchor="end">3500</text>
<text transform="translate(1596.8 792.26) scale(1 1.08)" font-size="26.4" fill="#000" text-anchor="end">4000</text>
<text transform="translate(1596.8 735.27) scale(1 1.08)" font-size="26.4" fill="#000" text-anchor="end">4500</text>
<text transform="translate(1596.8 678.29) scale(1 1.08)" font-size="26.4" fill="#000" text-anchor="end">5000</text>
<text transform="translate(1596.8 621.3) scale(1 1.08)" font-size="26.4" fill="#000" text-anchor="end">5500</text>
<path d="M1610.5 1012.4V1019.9M1709.86 1012.4V1019.9M1809.22 1012.4V1019.9M1908.58 1012.4V1019.9M2007.94 1012.4V1019.9M2107.3 1012.4V1019.9" stroke="#000" stroke-width="1.6" fill="none"/>
<text transform="translate(1610.5 1045.8) scale(1 1.08)" font-size="26.4" fill="#000" text-anchor="middle">0.0</text>
<text transform="translate(1709.86 1045.8) scale(1 1.08)" font-size="26.4" fill="#000" text-anchor="middle">0.2</text>
<text transform="translate(1809.22 1045.8) scale(1 1.08)" font-size="26.4" fill="#000" text-anchor="middle">0.4</text>
<text transform="translate(1908.58 1045.8) scale(1 1.08)" font-size="26.4" fill="#000" text-anchor="middle">0.6</text>
<text transform="translate(2007.94 1045.8) scale(1 1.08)" font-size="26.4" fill="#000" text-anchor="middle">0.8</text>
<text transform="translate(2108.8 1045.8) scale(1 1.08)" font-size="26.4" fill="#000" text-anchor="middle">1.0</text>
<path d="M1673.26 945.31L1747.44 866.29M1774.2 840.82L1845.3 780.38M1875.39 759.1L1942.91 719.8M1975.23 701.81L2041.87 666.39" stroke="#e6060e" stroke-width="4.4" fill="none"/>
<path d="M1650.6 941H1671.6M1650.6 977.4H1671.6M1661.1 941V977.4" stroke="#ff0000" stroke-width="1.8" fill="none"/>
<path d="M1750.1 834H1771.1M1750.1 871.3H1771.1M1760.6 834V871.3" stroke="#ff0000" stroke-width="1.8" fill="none"/>
<path d="M1849.4 749.4H1870.4M1849.4 787.8H1870.4M1859.9 749.4V787.8" stroke="#ff0000" stroke-width="1.8" fill="none"/>
<path d="M1948.9 690.7H1969.9M1948.9 729.6H1969.9M1959.4 690.7V729.6" stroke="#ff0000" stroke-width="1.8" fill="none"/>
<path d="M2048.2 636.9H2069.2M2048.2 678.1H2069.2M2058.7 636.9V678.1" stroke="#ff0000" stroke-width="1.8" fill="none"/>
<circle cx="1660.1" cy="958.8" r="12.7" fill="#ff0000"/><circle cx="1660.1" cy="958.8" r="12.1" fill="url(#hl)" stroke="#000" stroke-opacity="0.22" stroke-width="1.2"/>
<circle cx="1759.6" cy="852.8" r="12.7" fill="#ff0000"/><circle cx="1759.6" cy="852.8" r="12.1" fill="url(#hl)" stroke="#000" stroke-opacity="0.22" stroke-width="1.2"/>
<circle cx="1858.9" cy="768.4" r="12.7" fill="#ff0000"/><circle cx="1858.9" cy="768.4" r="12.1" fill="url(#hl)" stroke="#000" stroke-opacity="0.22" stroke-width="1.2"/>
<circle cx="1958.4" cy="710.5" r="12.7" fill="#ff0000"/><circle cx="1958.4" cy="710.5" r="12.1" fill="url(#hl)" stroke="#000" stroke-opacity="0.22" stroke-width="1.2"/>
<circle cx="2057.7" cy="657.7" r="12.7" fill="#ff0000"/><circle cx="2057.7" cy="657.7" r="12.1" fill="url(#hl)" stroke="#000" stroke-opacity="0.22" stroke-width="1.2"/>
<text transform="translate(1794.2 975.3) scale(1 1.04)" font-size="34" fill="#000" text-anchor="start">Ni/LaN NPs 340 <tspan dy="1.5" dx="1">°</tspan><tspan dy="-1.5" dx="0.3">C</tspan></text>
<text transform="translate(1859 1090.5) scale(1 1.04)" font-size="34" fill="#000" text-anchor="middle">Pressure (MPa)</text>
<text transform="translate(1512.4 945.9) rotate(-90)" font-size="34" text-anchor="start" fill="#000"><tspan font-style="italic">r</tspan><tspan font-size="20.3" dy="12.4" dx="8.6">NH3</tspan><tspan dy="-12.4" dx="11.2">(µmol</tspan><tspan dx="7.65">g</tspan><tspan font-size="19.5" dy="-17.5">-1</tspan><tspan dy="17.5" dx="6.95">h</tspan><tspan font-size="19.5" dy="-17.5">-1</tspan><tspan dy="17.5" dx="4.7">)</tspan></text>
<text x="1507.5" y="583.6" font-size="66" fill="#000" text-anchor="start">f</text>
<rect x="154.5" y="1187" width="497" height="399.5" fill="none" stroke="#000" stroke-width="1.8"/>
<path d="M259.6 1586.5V1595.5M390.2 1586.5V1595.5M520.9 1586.5V1595.5M651.5 1586.5V1595.5" stroke="#000" stroke-width="1.6" fill="none"/>
<text transform="translate(258.4 1620.5) scale(1 1.08)" font-size="26.4" fill="#000" text-anchor="middle">200</text>
<text transform="translate(389.4 1620.5) scale(1 1.08)" font-size="26.4" fill="#000" text-anchor="middle">400</text>
<text transform="translate(519.7 1620.5) scale(1 1.08)" font-size="26.4" fill="#000" text-anchor="middle">600</text>
<text transform="translate(651.5 1620.5) scale(1 1.08)" font-size="26.4" fill="#000" text-anchor="middle">800</text>
<path d="M154.32 1518.53L156.28 1518.31L157.79 1518.91L158.93 1519.18L160.54 1518.97L162.19 1518.17L164.17 1519.74L165.5 1518.37L167.63 1519.91L169.2 1518.65L171.23 1517.84L172.73 1518.33L173.64 1517.9L175.43 1519.39L176.93 1518.83L179.01 1518.32L180.55 1517.6L181.68 1517.86L183.93 1518.3L185.19 1518.61L186.95 1517.93L188.92 1518.76L189.99 1518.44L191.9 1519.06L193.73 1517.72L195.61 1517.3L196.67 1518.66L198.03 1518.02L199.54 1518.37L201.84 1518.15L203.53 1517.56L204.93 1518.17L206.4 1517.85L208.23 1518.91L209.45 1518.28L210.61 1518.35L212.78 1518.98L214.53 1517.41L215.68 1518.24L216.89 1517.77L218.62 1517L220.09 1518.42L221.73 1517.26L223.58 1518.62L224.84 1517.68L226.89 1518.62L228.74 1518.56L229.78 1517.56L231.44 1518.58L233.62 1516.96L234.41 1517.12L236.05 1517.66L237.98 1517.16L238.98 1517.49L240.92 1517.8L243.08 1518.06L244.23 1517.89L245.97 1516.64L247.77 1518.22L249.32 1518.25L250.42 1517.36L251.71 1517.86L253.25 1516.6L254.97 1516.8L256.68 1516.54L257.92 1516.75L259.6 1517.2L261.13 1518.26L263.31 1516.59L264.55 1516.96L266.26 1516.4L268.35 1518.25L269.57 1517.06L270.79 1516.16L272.64 1516.45L274.73 1516.16L275.52 1517.83L277.63 1515.99L279.24 1515.66L280.83 1517.69L282.76 1517L283.76 1516.21L285.24 1516.74L287.18 1516.4L288.54 1514.82L290.6 1516.14L292.21 1515.39L293.75 1514.88L294.73 1514.04L296.23 1512.24L297.28 1512.07L298.89 1512.26L300.97 1511L302.33 1511.46L303.72 1509.37L304.36 1508.34L305.72 1507.57L307.52 1508.38L309.07 1506.46L310.21 1506.18L310.97 1504.88L313.13 1504.16L314.3 1502.5L315.06 1502.2L316.54 1501.23L318.51 1499.35L319.27 1499.57L320.92 1496.87L321.36 1495.55L323.17 1495.71L323.44 1494.46L325.3 1492.81L325.7 1491.28L326.52 1488.82L328.39 1488.94L328.97 1488.28L329.91 1486.86L331.33 1484.12L331.79 1483.01L332.81 1482.37L333.86 1480.72L334.36 1480.34L335.2 1477.88L336.06 1477.4L336.52 1475.97L337.23 1473.66L337.87 1471.07L338.42 1469.97L338.6 1469.86L339.4 1467.68L340.58 1466.4L340.8 1464.85L341.66 1463.98L341.83 1462.02L342.6 1459.93L343.75 1458.98L344.16 1458.07L345.04 1455.85L345.27 1454.46L345.7 1453.34L346.16 1451.46L346.72 1450.83L347.47 1449.16L348.24 1446.28L348.38 1446.25L349.19 1442.95L349 1442.09L349.48 1440.12L350.01 1439.54L351.25 1438.51L351.14 1436.59L352.18 1433.8L352.93 1434.08L352.79 1432.52L353.5 1429.97L354.37 1429.13L353.83 1426.65L354.47 1424.85L354.43 1423.2L355.24 1420.94L355.36 1420.27L355.11 1418.43L356 1417.23L355.72 1416.67L356.73 1415.04L356.33 1411.88L356.55 1411.41L357.06 1408.39L357.5 1408.51L358.18 1405.47L357.79 1405.32L358.5 1403.24L358.3 1400.23L359.18 1399.44L358.85 1398.96L359.7 1397.06L359.43 1395.58L359.7 1394L360.37 1391.25L360.75 1390.94L360.81 1387.63L361.41 1386.31L361.34 1384.59L361.62 1383.12L362.23 1381.79L363.02 1380.2L363.1 1378.4L363.29 1376.49L363.54 1374.93L364.37 1374.55L364.17 1372.82L365.26 1370.46L365.48 1369.62L365.5 1368.94L365.75 1366.67L366.38 1366.16L366.38 1364.27L367.09 1362.28L367.13 1360.09L367.12 1358.06L367.48 1357.84L368.01 1355.02L368.18 1354.95L369.41 1353.01L369.26 1350.51L369.71 1349.43L370.01 1347.83L370.55 1347.41L371.7 1344.93L371.41 1344.29L371.91 1341.39L372.04 1339.88L372.96 1338.59L373.12 1337.03L373.36 1334.94L373.88 1333.67L374.28 1331.28L374.98 1330.18L375.7 1329.27L376.3 1327.99L376.7 1326.92L376.81 1324.14L377.85 1322.19L378.02 1321.72L378.01 1320.71L379.52 1318.82L380.03 1317.8L380.1 1315.74L381.13 1314.99L382.09 1313.55L382.53 1312.26L383.3 1310.4L383.51 1307.51L384.08 1306.81L384.71 1306.42L385.83 1304.54L386.56 1303.23L387.09 1300.31L387.99 1300.43L388.28 1298.45L389.02 1295.91L389.69 1294.81L389.62 1293.33L390.86 1291.68L391.46 1291.86L391.8 1289.05L392.37 1288.2L393.25 1286.54L393.71 1283.84L393.81 1282.72L394.99 1281.32L395.4 1279.16L395.48 1278.21L396.68 1277.63L397.28 1275.24L397.69 1274.1L398.21 1271.81L399.21 1270.46L399.87 1270.55L399.48 1267.98L400.86 1267.57L401.06 1264.5L401.4 1264.47L401.97 1262.14L402.48 1260.49L403.86 1258.1L404.3 1257.4L404.94 1256.3L404.86 1255.2L405.69 1251.75L405.99 1251.35L407.21 1249.51L407.69 1248.17L408.64 1247.84L409.11 1246.22L410.73 1243.4L411.6 1243.28L412.36 1240.92L412.61 1239.72L414.02 1238.72L414.16 1236.94L415.09 1234.99L415.93 1235.61L417.13 1234.72L418.11 1232.13L419.38 1230.85L420.26 1231.42L421.78 1229.99L422.95 1229.63L424.68 1228.25L425.88 1226.57L427.31 1226.87L428.75 1226.72L429.73 1225.85L431.81 1226.46L432.79 1227.38L434.06 1228.69L436.18 1228.07L436.87 1229.38L437.79 1230.8L438.41 1231.5L439.47 1234.35L440.77 1234.06L442.19 1236.98L442.75 1236.31L443.15 1237.63L443.97 1239.06L444.52 1240.86L445.52 1243.68L446.36 1244.06L446.68 1245.74L447.31 1246.76L447.65 1248.06L449.22 1249.15L449.42 1251.69L450.44 1252.21L450.51 1253.72L451.3 1255.58L452.33 1257.99L452.72 1257.69L452.35 1260.72L453.69 1261.72L453.85 1262.2L454.13 1265.76L455.04 1267.12L455.66 1267.31L455.27 1268.62L456.16 1271.3L457.05 1272.91L457.23 1274.52L457.51 1275.57L457.57 1277.6L458.23 1279.42L459.07 1279.58L458.98 1280.98L459.91 1283.47L459.81 1283.6L460.64 1286.24L460.93 1286.96L461.57 1288.01L461.69 1290.51L462.77 1292.42L463.12 1293.56L462.89 1294.57L464.04 1297.09L463.81 1297.1L464.43 1300.05L464.77 1300.64L465.44 1303.62L465.43 1303.18L465.93 1305.54L466.67 1306.56L467.18 1309.26L467.28 1309.6L468.14 1311.34L468.39 1312.67L468.18 1315.35L468.65 1317.28L469.25 1317.11L469.37 1319.13L470.2 1321.81L470.08 1322.1L470.54 1324.89L470.86 1324.37L471.18 1326.63L472.41 1329.22L472.64 1330.98L473.23 1331.02L472.86 1333.94L473.79 1333.53L474.09 1335.87L474.17 1337.35L474.34 1338.2L474.82 1340.55L475.87 1341.62L476.25 1343.39L476.02 1346.32L476.86 1347.04L476.46 1348.71L477.16 1351.27L477.35 1351.63L478.43 1352.47L478.32 1355.77L479.05 1355.65L478.69 1357.28L479.95 1359.29L480.15 1362.28L480.14 1362.48L481.16 1364.82L480.86 1366.63L481.32 1367.24L481.4 1369.88L482.72 1371.19L483.14 1371.44L482.83 1374.01L483.96 1376.65L483.79 1376.69L484.23 1378.8L485.13 1379.7L485.4 1382.51L485.82 1384.17L486.01 1384.77L486.12 1386.43L486.98 1387.39L486.8 1390.46L487.26 1390.49L487.47 1393.11L488.18 1395.59L489.15 1397.16L488.95 1396.71L489.2 1399.17L490.23 1400.6L490.17 1402.08L490.97 1404.2L491.51 1406.12L491.85 1406.07L492.44 1408L492.58 1409.72L493.17 1410.88L493.1 1412.53L493.42 1415.48L494.26 1415.8L494.5 1418.81L495.02 1418.68L495.74 1421.15L496.34 1421.49L496.24 1424.61L497.02 1426.37L496.64 1426.55L497.29 1427.78L498.71 1430.11L499.24 1431.1L499.74 1432.73L499.71 1434.92L500.96 1434.9L501.18 1437.49L501.37 1438.4L501.86 1439.5L502.55 1441.83L503.51 1442.42L503.44 1444.16L504.68 1445.31L505.12 1446.78L506.42 1448.98L506.5 1449.44L507.65 1451.86L508.7 1452.29L509.04 1455.05L510.1 1455.59L510.81 1458.5L511.81 1458.81L512.86 1459.65L514.36 1462.09L514.86 1461.5L516.23 1462.68L516.51 1465.38L517.92 1466.37L518.91 1467.68L519.96 1467.26L520.94 1468.97L523 1470.62L523.87 1470.84L525.59 1471.44L526.79 1471.81L528.59 1474.08L529.61 1473.98L531.88 1475.6L532.84 1474.32L535.16 1476.76L536.27 1475.3L538.28 1476.61L539.83 1477.69L541.32 1477.25L542.84 1477.56L544.02 1479.1L546 1477.8L546.94 1478.45L548.8 1478.58L549.96 1478.44L552.11 1480.04L552.99 1479.47L555.26 1478.48L556.96 1478.62L558.35 1479.54L560 1478.96L561.42 1479.53L563.05 1479.66L564.7 1479.14L565.9 1479.5L567.99 1478.62L569.81 1479.87L571.05 1478.6L572.61 1478.5L573.81 1479.27L575.32 1479.35L577.28 1478.52L578.95 1478.66L580.6 1480.25L581.92 1478.71L583.46 1479.48L585.45 1479L586.96 1480.83L588.43 1480.37L589.49 1480.68L591.39 1480.56L593.42 1478.76L594.89 1480.39L595.77 1479.05L598.06 1478.57L599.8 1478.76L601.32 1478.42L602.55 1480.03L603.8 1478.5L605.64 1478.53L606.72 1478.14L608.39 1479.71L610.45 1479.52L611.49 1479.19L612.98 1478.54L615.05 1478.07L616.83 1478.41L618.08 1479.04L619.15 1479.22L621.22 1477.84L622.93 1477.49L624.67 1478.12L625.59 1478.46L627.22 1477.11L629.06 1476.76L630.68 1477.15L632.05 1478.69L633.54 1477.92L634.81 1476.4L636.18 1476.63L638.42 1477.15L639.96 1478.07L641.23 1476.5L643.4 1475.95L644.4 1476.58L646.16 1476.49L647.92 1476.88L649.94 1475.95L651.62 1476.44" stroke="#ec0006" stroke-width="4.4" fill="none" stroke-linejoin="round"/>
<text transform="translate(167.5 1224) scale(1 1.04)" font-size="34" fill="#000" text-anchor="start">TPD</text>
<text transform="translate(512 1227.5) scale(1 1.04)" font-size="34" fill="#000" text-anchor="start">M/w = 2</text>
<text transform="translate(385 1556.8) scale(1 1.04)" font-size="34" fill="#ec0006" text-anchor="start">used Ni/LaN bulk</text>
<text transform="translate(403.5 1672.2) scale(1 1.04)" font-size="34.5" fill="#000" text-anchor="middle">Temperature (<tspan dy="1.5" dx="1">°</tspan><tspan dy="-1.5" dx="0.3">C</tspan>)</text>
<text transform="translate(107.5 1387) rotate(-90)" font-size="34" text-anchor="middle" fill="#000">Intensity (arb. unit)</text>
<text x="44" y="1187.5" font-size="66" fill="#000" text-anchor="start">g</text>
<rect x="897" y="1183.5" width="496.3" height="399.9" fill="none" stroke="#000" stroke-width="1.8"/>
<path d="M897 1583.4V1592.4M979.72 1583.4V1592.4M1062.43 1583.4V1592.4M1145.15 1583.4V1592.4M1227.87 1583.4V1592.4M1310.58 1583.4V1592.4M1393.3 1583.4V1592.4" stroke="#000" stroke-width="1.6" fill="none"/>
<text transform="translate(897 1616.3) scale(1 1.08)" font-size="26.4" fill="#000" text-anchor="middle">3000</text>
<text transform="translate(979.72 1616.3) scale(1 1.08)" font-size="26.4" fill="#000" text-anchor="middle">3100</text>
<text transform="translate(1062.43 1616.3) scale(1 1.08)" font-size="26.4" fill="#000" text-anchor="middle">3200</text>
<text transform="translate(1145.15 1616.3) scale(1 1.08)" font-size="26.4" fill="#000" text-anchor="middle">3300</text>
<text transform="translate(1227.87 1616.3) scale(1 1.08)" font-size="26.4" fill="#000" text-anchor="middle">3400</text>
<text transform="translate(1310.58 1616.3) scale(1 1.08)" font-size="26.4" fill="#000" text-anchor="middle">3500</text>
<text transform="translate(1393.3 1616.3) scale(1 1.08)" font-size="26.4" fill="#000" text-anchor="middle">3600</text>
<path d="M897 1497.76L898.2 1500.46L899.4 1498.08L900.6 1497.74L901.8 1497.54L903 1499.36L904.2 1500.13L905.4 1499.81L906.6 1498.49L907.8 1498L909 1497.12L910.2 1499.25L911.4 1498.95L912.6 1498.21L913.8 1499.19L915 1498.48L916.2 1500.14L917.4 1499.42L918.6 1497.75L919.8 1499.96L921 1497.01L922.2 1498.65L923.4 1498.2L924.6 1497.61L925.8 1496.98L927 1499.4L928.2 1496.78L929.4 1498.59L930.6 1499.89L931.8 1497.15L933 1497.33L934.2 1498.69L935.4 1498.33L936.6 1498.77L937.8 1499.33L939 1497.14L940.2 1497.57L941.4 1497.52L942.6 1496.65L943.8 1499.48L945 1499.1L946.2 1498.85L947.4 1496.42L948.6 1499.25L949.8 1498.89L951 1497.92L952.2 1498.84L953.4 1497.83L954.6 1497.04L955.8 1496.61L957 1497.02L958.2 1496.35L959.4 1497.34L960.6 1498.72L961.8 1498.52L963 1499.01L964.2 1498.54L965.4 1497L966.6 1497.96L967.8 1497.54L969 1498.72L970.2 1497.8L971.4 1496.9L972.6 1498.16L973.8 1499.24L975 1496.68L976.2 1498.92L977.4 1495.96L978.6 1496.77L979.8 1496.67L981 1498.38L982.2 1499.05L983.4 1498.35L984.6 1496.91L985.8 1498.77L987 1496.88L988.2 1496.56L989.4 1498.81L990.6 1497.85L991.8 1498.05L993 1497.94L994.2 1498.99L995.4 1497.24L996.6 1498.48L997.8 1497.98L999 1498.51L1000.2 1497.06L1001.4 1498.02L1002.6 1497.48L1003.8 1496.57L1005 1496.23L1006.2 1497.61L1007.4 1495.74L1008.6 1498.56L1009.8 1495.94L1011 1495.52L1012.2 1495.78L1013.4 1498.56L1014.6 1496.56L1015.8 1495.85L1017 1495.45L1018.2 1495.48L1019.4 1497.68L1020.6 1497.47L1021.8 1497.67L1023 1497.79L1024.2 1495.5L1025.4 1497.27L1026.6 1496.48L1027.8 1498.01L1029 1498L1030.2 1498.24L1031.4 1495.42L1032.6 1498.13L1033.8 1498.28L1035 1498.37L1036.2 1495.51L1037.4 1495.83L1038.6 1495.5L1039.8 1495.22L1041 1497.98L1042.2 1497.84L1043.4 1497.23L1044.6 1497.87L1045.8 1497.2L1047 1496.02L1048.2 1495.37L1049.4 1495.35L1050.6 1497.58L1051.8 1495.69L1053 1496.07L1054.2 1496.42L1055.4 1495.04L1056.6 1495.83L1057.8 1495.91L1059 1497.37L1060.2 1496.18L1061.4 1496.01L1062.6 1498.19L1063.8 1496.62L1065 1497.79L1066.2 1496.99L1067.4 1494.98L1068.6 1496.27L1069.8 1496.35L1071 1497.48L1072.2 1496.03L1073.4 1497.24L1074.6 1496.66L1075.8 1495.56L1077 1497.75L1078.2 1495.12L1079.4 1497.59L1080.6 1495.38L1081.8 1494.8L1083 1495.48L1084.2 1497.37L1085.4 1498.1L1086.6 1494.79L1087.8 1496.44L1089 1496.43L1090.2 1497.47L1091.4 1495.38L1092.6 1496.43L1093.8 1495.93L1095 1497.57L1096.2 1495.62L1097.4 1497.94L1098.6 1495.7L1099.8 1495.46L1101 1497.1L1102.2 1496.42L1103.4 1495.09L1104.6 1496.88L1105.8 1494.99L1107 1497.39L1108.2 1497.08L1109.4 1497.38L1110.6 1496.84L1111.8 1495.91L1113 1496.07L1114.2 1496.04L1115.4 1497.73L1116.6 1494.99L1117.8 1497.72L1119 1494.79L1120.2 1495.4L1121.4 1495.59L1122.6 1497.76L1123.8 1496.4L1125 1495.99L1126.2 1497.71L1127.4 1495.5L1128.6 1496.27L1129.8 1496.51L1131 1497.27L1132.2 1497.27L1133.4 1496.91L1134.6 1495.9L1135.8 1495.83L1137 1495.25L1138.2 1497.59L1139.4 1496.97L1140.6 1497.25L1141.8 1495.31L1143 1496.22L1144.2 1497.37L1145.4 1496.71L1146.6 1495.17L1147.8 1496.32L1149 1497.76L1150.2 1495.57L1151.4 1495.41L1152.6 1495.79L1153.8 1497.16L1155 1497.65L1156.2 1495.31L1157.4 1495.32L1158.6 1495.64L1159.8 1495.91L1161 1496.58L1162.2 1495.36L1163.4 1495.93L1164.6 1495.47L1165.8 1498.15L1167 1497.32L1168.2 1495.19L1169.4 1498.13L1170.6 1495.21L1171.8 1496.17L1173 1498.22L1174.2 1497.59L1175.4 1497.39L1176.6 1496.38L1177.8 1495.58L1179 1497.09L1180.2 1495.29L1181.4 1495.64L1182.6 1496.27L1183.8 1495.07L1185 1496.32L1186.2 1497.66L1187.4 1497.34L1188.6 1496.7L1189.8 1497.15L1191 1496.59L1192.2 1495.51L1193.4 1497.09L1194.6 1496.42L1195.8 1497.58L1197 1498.16L1198.2 1496.54L1199.4 1497.04L1200.6 1497.65L1201.8 1496.55L1203 1495.9L1204.2 1497.59L1205.4 1498.14L1206.6 1497.8L1207.8 1497.56L1209 1498.09L1210.2 1497.51L1211.4 1497.4L1212.6 1496.77L1213.8 1496.31L1215 1497.39L1216.2 1495.6L1217.4 1496.71L1218.6 1497.96L1219.8 1497.74L1221 1497.47L1222.2 1496.19L1223.4 1496.79L1224.6 1496.92L1225.8 1497.5L1227 1496.79L1228.2 1497.71L1229.4 1498.59L1230.6 1496.07L1231.8 1497.68L1233 1498.12L1234.2 1496.81L1235.4 1497.17L1236.6 1498.84L1237.8 1495.67L1239 1497.4L1240.2 1496.12L1241.4 1498.25L1242.6 1498.8L1243.8 1497.39L1245 1495.98L1246.2 1497.61L1247.4 1497.51L1248.6 1498.13L1249.8 1497.45L1251 1497.9L1252.2 1498.56L1253.4 1497.53L1254.6 1497.17L1255.8 1499.02L1257 1496.53L1258.2 1498.16L1259.4 1497.18L1260.6 1498.46L1261.8 1496.3L1263 1499.25L1264.2 1497.13L1265.4 1496.13L1266.6 1496.89L1267.8 1497.34L1269 1496.04L1270.2 1497.45L1271.4 1497.49L1272.6 1498.46L1273.8 1497.31L1275 1497.05L1276.2 1496.94L1277.4 1498.73L1278.6 1499.44L1279.8 1498.07L1281 1497.05L1282.2 1499.06L1283.4 1497.7L1284.6 1497.12L1285.8 1496.87L1287 1499.1L1288.2 1499.25L1289.4 1498.68L1290.6 1498.15L1291.8 1498.5L1293 1497.39L1294.2 1499.93L1295.4 1497.89L1296.6 1498.89L1297.8 1499.54L1299 1499.56L1300.2 1498.41L1301.4 1497.85L1302.6 1498.75L1303.8 1497.34L1305 1499.78L1306.2 1498.19L1307.4 1499.91L1308.6 1497.96L1309.8 1498.36L1311 1497.97L1312.2 1498.59L1313.4 1497.81L1314.6 1497.22L1315.8 1499.7L1317 1498.23L1318.2 1498.14L1319.4 1498.37L1320.6 1499.01L1321.8 1498.87L1323 1499.61L1324.2 1499.72L1325.4 1498.74L1326.6 1500.7L1327.8 1500.48L1329 1497.8L1330.2 1500.46L1331.4 1500.76L1332.6 1500.38L1333.8 1498.22L1335 1500.6L1336.2 1499.96L1337.4 1497.9L1338.6 1497.92L1339.8 1501.15L1341 1500.18L1342.2 1498.83L1343.4 1498.36L1344.6 1498.51L1345.8 1498.83L1347 1500.69L1348.2 1499.24L1349.4 1498.59L1350.6 1501.16L1351.8 1500.79L1353 1498.68L1354.2 1501.15L1355.4 1500.2L1356.6 1500.8L1357.8 1500.43L1359 1501.21L1360.2 1500.86L1361.4 1501.04L1362.6 1498.87L1363.8 1500.57L1365 1500.03L1366.2 1500.76L1367.4 1499.74L1368.6 1501.26L1369.8 1500.16L1371 1499.18L1372.2 1499.09L1373.4 1498.78L1374.6 1500L1375.8 1498.53L1377 1499.93L1378.2 1498.84L1379.4 1500.04L1380.6 1500.07L1381.8 1500.22L1383 1501.33L1384.2 1498.43L1385.4 1501.28L1386.6 1500.03L1387.8 1500.36L1389 1500.72L1390.2 1501.33L1391.4 1499.76L1392.6 1499.92" stroke="#ec0006" stroke-width="4.6" fill="none" stroke-linejoin="round"/>
<text transform="translate(1105 1233.7) scale(1 1.04)" font-size="34" fill="#ec0006" text-anchor="start">used Ni/LaN bulk</text>
<text transform="translate(1145 1665.6) scale(1 1.04)" font-size="34" text-anchor="middle">Raman shift (cm<tspan font-size="20" dy="-17">-1</tspan><tspan dy="17">)</tspan></text>
<text transform="translate(857.5 1373.5) rotate(-90)" font-size="34" text-anchor="middle" fill="#000">Intensity (arb. unit)</text>
<text x="784" y="1183.5" font-size="66" fill="#000" text-anchor="start">h</text>
<rect x="1642.2" y="1425" width="62.1" height="158.6" fill="#ff8000"/>
<rect x="1765.8" y="1302.1" width="62.8" height="281.5" fill="#008000"/>
<rect x="1890.1" y="1368.9" width="61.8" height="214.7" fill="#ff0000"/>
<rect x="2014.7" y="1244.6" width="61.8" height="339" fill="#0000ff"/>
<rect x="1610.5" y="1183.5" width="497.8" height="400.1" fill="none" stroke="#000" stroke-width="1.8"/>
<path d="M1604.3 1583.6H1610.5M1604.3 1494.6H1610.5M1604.3 1405.6H1610.5M1604.3 1316.6H1610.5M1604.3 1227.6H1610.5" stroke="#000" stroke-width="1.6" fill="none"/>
<text transform="translate(1598 1591.4) scale(1 1.08)" font-size="26.4" fill="#000" text-anchor="end">0</text>
<text transform="translate(1598 1502.4) scale(1 1.08)" font-size="26.4" fill="#000" text-anchor="end">1000</text>
<text transform="translate(1598 1413.4) scale(1 1.08)" font-size="26.4" fill="#000" text-anchor="end">2000</text>
<text transform="translate(1598 1324.4) scale(1 1.08)" font-size="26.4" fill="#000" text-anchor="end">3000</text>
<text transform="translate(1598 1235.4) scale(1 1.08)" font-size="26.4" fill="#000" text-anchor="end">4000</text>
<path d="M1673.3 1583.6V1591.8M1797 1583.6V1591.8M1921.2 1583.6V1591.8M2045.5 1583.6V1591.8" stroke="#000" stroke-width="1.6" fill="none"/>
<text transform="translate(1670.3 1631) scale(1 1.04)" font-size="34" fill="#ff8000" text-anchor="middle">Fe</text>
<text transform="translate(1797 1631) scale(1 1.04)" font-size="34" fill="#008000" text-anchor="middle">Co</text>
<text transform="translate(1923.2 1631) scale(1 1.04)" font-size="34" fill="#ff0000" text-anchor="middle">Ni</text>
<text transform="translate(2044.5 1631) scale(1 1.04)" font-size="34" fill="#0000ff" text-anchor="middle">Ru</text>
<path d="M1651.55 1406.3H1697.55M1651.55 1445.1H1697.55M1674.55 1406.3V1445.1" stroke="#000" stroke-width="3" fill="none"/>
<text transform="translate(1675.55 1392.5) scale(1 1.06)" font-size="32" fill="#ff8000" text-anchor="middle">1777</text>
<path d="M1775.5 1284.7H1821.5M1775.5 1320.5H1821.5M1798.5 1284.7V1320.5" stroke="#000" stroke-width="3" fill="none"/>
<text transform="translate(1796.2 1272.5) scale(1 1.06)" font-size="32" fill="#008000" text-anchor="middle">3160</text>
<path d="M1899.3 1348.9H1945.3M1899.3 1388H1945.3M1922.3 1348.9V1388" stroke="#000" stroke-width="3" fill="none"/>
<text transform="translate(1920 1337) scale(1 1.06)" font-size="32" fill="#ff0000" text-anchor="middle">2400</text>
<path d="M2023.9 1226.9H2069.9M2023.9 1264.3H2069.9M2046.9 1226.9V1264.3" stroke="#000" stroke-width="3" fill="none"/>
<text transform="translate(2044.6 1212.5) scale(1 1.06)" font-size="32" fill="#0000ff" text-anchor="middle">3797</text>
<text transform="translate(1626 1218.5) scale(1 1.04)" font-size="32.5" fill="#000" text-anchor="start">TM on LaN</text>
<text transform="translate(1517.4 1510.9) rotate(-90)" font-size="34" text-anchor="start" fill="#000"><tspan font-style="italic">r</tspan><tspan font-size="20.3" dy="12.4" dx="8.6">NH3</tspan><tspan dy="-12.4" dx="11.2">(µmol</tspan><tspan dx="6.35">g</tspan><tspan font-size="19.5" dy="-17.5">-1</tspan><tspan dy="17.5" dx="7.05">h</tspan><tspan font-size="19.5" dy="-17.5">-1</tspan><tspan dy="17.5" dx="5.6">)</tspan></text>
<text x="1508" y="1162" font-size="66" fill="#000" text-anchor="start">i</text>
</svg></body></html>
